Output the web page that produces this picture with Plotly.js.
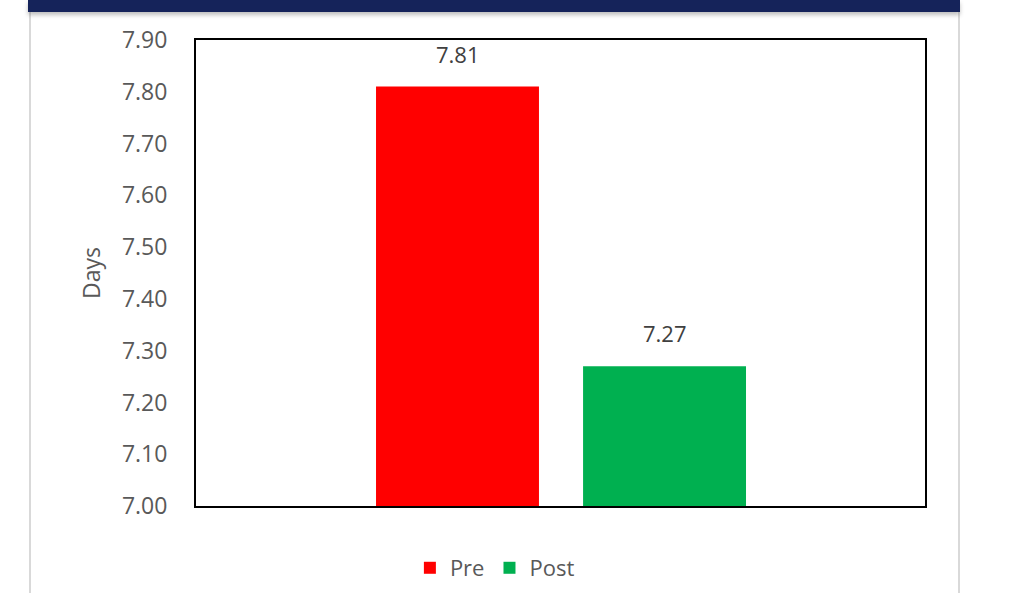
<!DOCTYPE html>
<html>
<head>
<meta charset="utf-8">
<script src="https://cdn.plot.ly/plotly-3.0.1.min.js"></script>
<style>
  html, body { margin:0; padding:0; background:#ffffff; width:1028px; height:593px; overflow:hidden; }
  #band { position:absolute; left:28px; top:0; width:932px; height:12px; background:#15235a; box-shadow:0 3px 4px rgba(0,0,0,0.25); z-index:2; }
  #lline { position:absolute; left:29px; top:12px; width:2px; height:581px; background:#d9d9d9; }
  #rline { position:absolute; left:958px; top:12px; width:2px; height:581px; background:#d9d9d9; }
  #chart { position:absolute; left:0; top:0; width:1028px; height:593px; z-index:1; }
</style>
</head>
<body>
<div id="lline"></div>
<div id="rline"></div>
<div id="chart"></div>
<div id="band"></div>
<script>
const categories = ['Pre', 'Post'];
const values = [7.81, 7.27];
const colors = ['#ff0000', '#00b050'];
const yTicks = [7.0, 7.1, 7.2, 7.3, 7.4, 7.5, 7.6, 7.7, 7.8, 7.9];

const FONT = 'Open Sans, Noto Sans, sans-serif';
const GRAY = '#595959';

const traces = categories.map((c, i) => ({
  type: 'bar',
  name: c,
  x: [c],
  y: [values[i]],
  width: 0.787,
  marker: { color: colors[i], line: { width: 0 } },
  hoverinfo: 'skip'
}));

const annotations = categories.map((c, i) => ({
  x: c, y: values[i], xref: 'x', yref: 'y',
  text: values[i].toFixed(2),
  showarrow: false, yanchor: 'bottom', yshift: 16,
  font: { family: FONT, size: 22, color: '#404040' }
}));

const layout = {
  width: 1028, height: 593,
  margin: { l: 196, r: 103, t: 40, b: 87, autoexpand: false },
  paper_bgcolor: 'rgba(0,0,0,0)',
  plot_bgcolor: 'rgba(0,0,0,0)',
  barmode: 'overlay',
  showlegend: true,
  legend: {
    orientation: 'h', x: 0.41, xanchor: 'center', y: -0.133, yanchor: 'middle',
    font: { family: FONT, size: 22, color: GRAY },
    itemclick: false, itemwidth: 30
  },
  xaxis: {
    type: 'category',
    range: [-1.263, 2.258],
    showticklabels: false, ticks: '',
    showgrid: false, zeroline: false,
    showline: true, mirror: true, linecolor: '#000000', linewidth: 2
  },
  yaxis: {
    range: [7.0, 7.9],
    tickvals: yTicks,
    ticktext: yTicks.map(v => v.toFixed(2)),
    ticks: '', ticklabelstandoff: 22,
    tickfont: { family: FONT, size: 23, color: GRAY },
    showgrid: false, zeroline: false,
    showline: true, mirror: true, linecolor: '#000000', linewidth: 2,
    title: { text: 'Days', font: { family: FONT, size: 23, color: GRAY }, standoff: 15 }
  },
  annotations: annotations
};

Plotly.newPlot('chart', traces, layout, { staticPlot: true, displayModeBar: false });
</script>
</body>
</html>
